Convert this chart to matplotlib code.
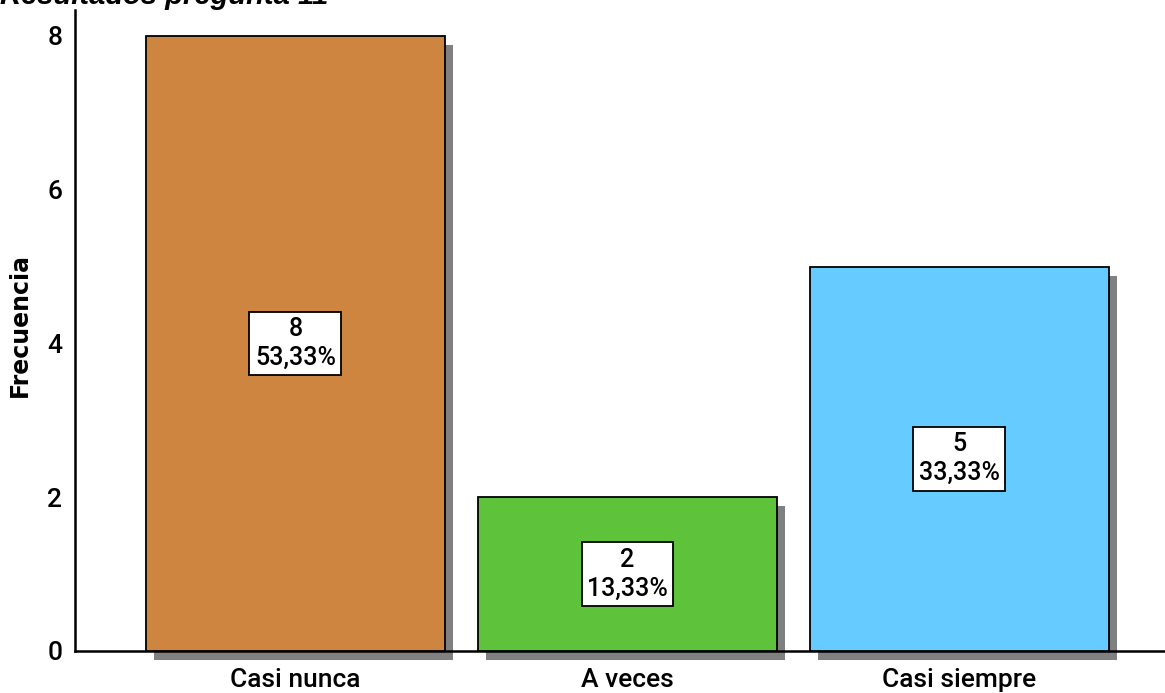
import matplotlib
matplotlib.use("Agg")
import matplotlib.pyplot as plt
import matplotlib.transforms as mtransforms

categories = ["Casi nunca", "A veces", "Casi siempre"]
counts = [8, 2, 5]
percents = ["53,33%", "13,33%", "33,33%"]
bar_colors = ["#CD853F", "#5EC23A", "#66CCFF"]
y_ticks = [0, 2, 4, 6, 8]
title = "Resultados pregunta 11"
y_label = "Frecuencia"

label_font = ["Roboto", "Liberation Sans", "DejaVu Sans"]

W, H = 1165, 693
fig = plt.figure(figsize=(W / 100, H / 100), dpi=100)
ax = fig.add_axes([75 / W, 42 / H, 1 - 75 / W, 641 / H])

x = list(range(len(categories)))
width = 0.9

# drop shadow behind each bar
shadow_tr = mtransforms.offset_copy(ax.transData, fig=fig, x=8, y=-9, units="dots")
ax.bar(x, counts, width=width, color="#808080", edgecolor="none",
       transform=shadow_tr, zorder=1, clip_on=False)
ax.bar(x, counts, width=width, color=bar_colors, edgecolor="black",
       linewidth=1.3, zorder=3)

for xi, c, p in zip(x, counts, percents):
    ax.text(xi, c / 2, f"{c}\n{p}", ha="center", va="center",
            fontsize=18, family=label_font, fontweight="medium",
            linespacing=1.25, zorder=5,
            bbox=dict(boxstyle="square,pad=0.22", fc="white", ec="black", lw=1.3))

ax.set_xlim(-0.664, 2.619)
ax.set_ylim(0, 8.336)
ax.set_xticks(x)
ax.set_xticklabels(categories, family=label_font, fontsize=19, fontweight="medium")
ax.set_yticks(y_ticks)
ax.set_yticklabels([str(v) for v in y_ticks], family=label_font, fontsize=19,
                   fontweight="medium")
ax.tick_params(axis="both", length=0)
ax.tick_params(axis="x", pad=12)
ax.tick_params(axis="y", pad=9)

for s in ["top", "right"]:
    ax.spines[s].set_visible(False)
ax.spines["left"].set_linewidth(1.8)
ax.spines["bottom"].set_linewidth(1.8)
ax.spines["bottom"].set_zorder(2)

fig.text(20 / W, 1 - 325 / H, y_label, rotation=90,
         ha="center", va="center", fontsize=17, fontweight="bold",
         family="DejaVu Sans")

fig.text(0.0, 1 - 4 / H, title, ha="left", va="baseline", fontsize=21,
         fontweight="bold", style="italic", family="Liberation Sans")

fig.savefig("out.png", dpi=100)
